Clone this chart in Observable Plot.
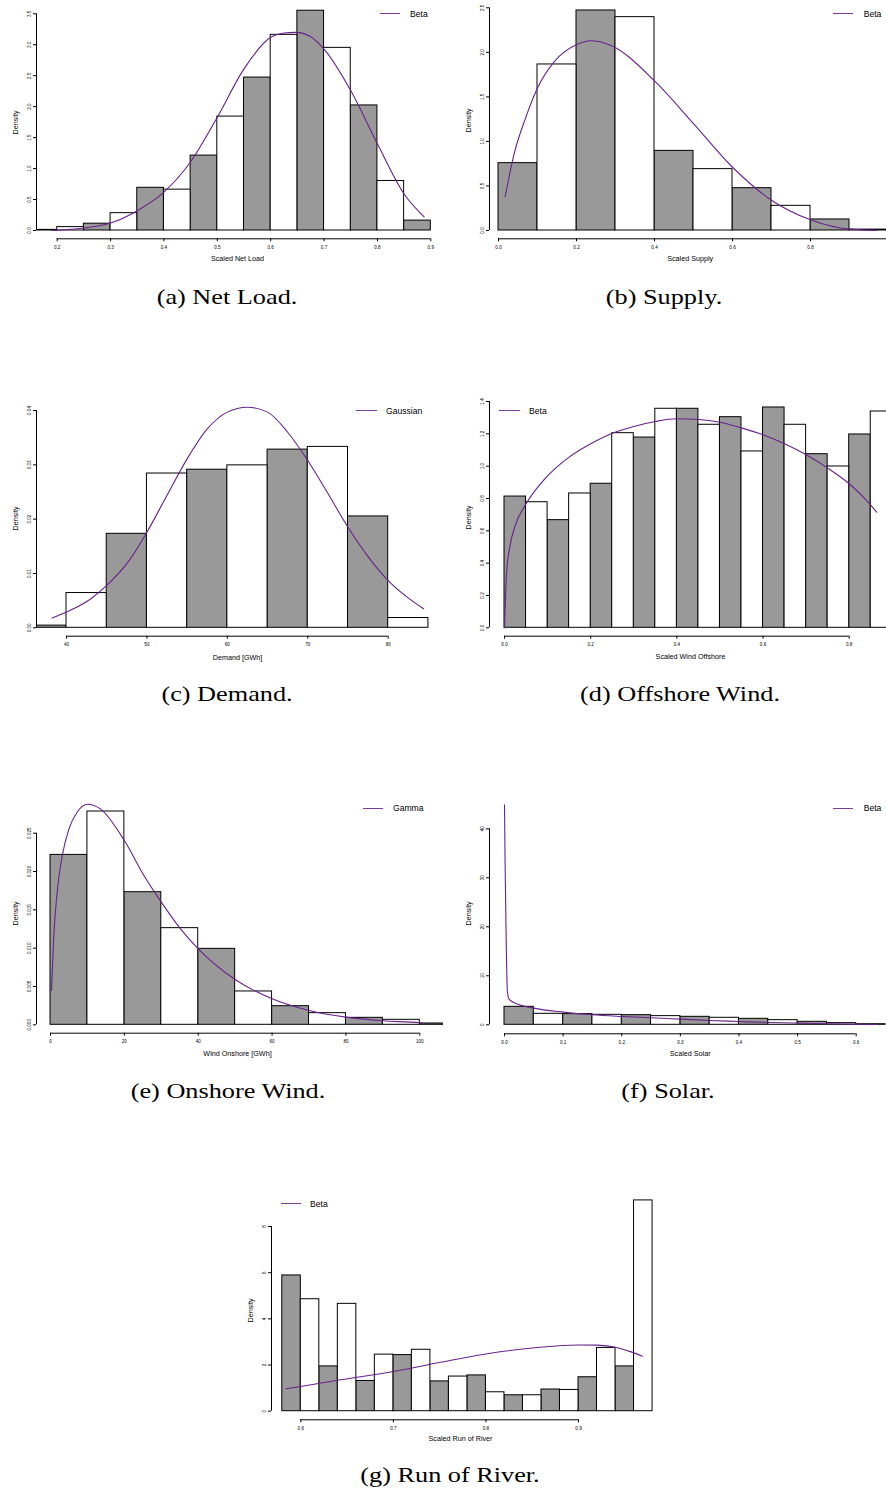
<!DOCTYPE html>
<html><head><meta charset="utf-8">
<script src="https://cdn.jsdelivr.net/npm/d3@7"></script>
<script src="https://cdn.jsdelivr.net/npm/@observablehq/plot@0.6"></script>
<style>
body{margin:0;background:#fff}
#page{position:relative;width:886px;height:1492px;overflow:hidden;background:#fff}
.cap{position:absolute;font-family:"Liberation Serif","Times New Roman",serif;font-size:21px;white-space:nowrap;transform:translate(-50%,-50%) scaleX(1.25);color:#000}
.legtxt{position:absolute;font-family:"Liberation Sans",Arial,sans-serif;font-size:8.6px;white-space:nowrap;transform:translateY(-50%);color:#000}
.legln{position:absolute;height:0;border-top:1.4px solid #7b3f98}
</style>
</head><body><div id="page"></div>
<script>
// ---------- DATA ----------
// (a) Net Load
const netLoadBreaks = [0.15,0.2,0.25,0.3,0.35,0.4,0.45,0.5,0.55,0.6,0.65,0.7,0.75,0.8,0.85,0.9];
const netLoadDensity = [0.01,0.055,0.11,0.28,0.69,0.66,1.21,1.84,2.47,3.16,3.55,2.95,2.02,0.80,0.16];
const netLoadFitX = [0.19,0.25,0.30,0.35,0.40,0.45,0.50,0.55,0.60,0.625,0.647,0.675,0.70,0.75,0.80,0.85,0.8875];
const netLoadFitY = [0.0,0.04,0.12,0.32,0.62,1.11,1.83,2.61,3.12,3.19,3.20,3.13,2.93,2.26,1.40,0.59,0.22];
const netLoadXTicks = [0.2,0.3,0.4,0.5,0.6,0.7,0.8,0.9];
const netLoadXLabels = ["0.2","0.3","0.4","0.5","0.6","0.7","0.8","0.9"];
const netLoadYTicks = [0,0.5,1,1.5,2,2.5,3,3.5];
const netLoadYLabels = ["0.0","0.5","1.0","1.5","2.0","2.5","3.0","3.5"];

// (b) Supply
const supplyBreaks = [0,0.1,0.2,0.3,0.4,0.5,0.6,0.7,0.8,0.9,1.0];
const supplyDensity = [0.756,1.864,2.47,2.395,0.894,0.689,0.475,0.277,0.124,0.01];
const supplyFitX = [0.017,0.040,0.070,0.100,0.142,0.202,0.236,0.287,0.40,0.50,0.60,0.70,0.80,0.90,0.97];
const supplyFitY = [0.38,0.86,1.27,1.60,1.89,2.09,2.13,2.08,1.68,1.20,0.71,0.34,0.12,0.015,0.002];
const supplyXTicks = [0,0.2,0.4,0.6,0.8];
const supplyXLabels = ["0.0","0.2","0.4","0.6","0.8"];
const supplyYTicks = [0,0.5,1,1.5,2,2.5];
const supplyYLabels = ["0.0","0.5","1.0","1.5","2.0","2.5"];

// (c) Demand
const demandBreaks = [35,40,45,50,55,60,65,70,75,80,85];
const demandDensity = [0.0004,0.0064,0.0173,0.0284,0.0291,0.0299,0.0328,0.0333,0.0205,0.0018];
const demandFitX = [38.2,40,43,45,47.5,50,52.5,55,57.5,60,62.5,65,67.5,70,72.4,75,77.4,80,82.4,84.4];
const demandFitY = [0.0018,0.0029,0.0053,0.0078,0.0118,0.0176,0.0244,0.0311,0.0366,0.0397,0.0406,0.0397,0.0360,0.0308,0.0250,0.0185,0.0133,0.0087,0.0056,0.0035];
const demandXTicks = [40,50,60,70,80];
const demandXLabels = ["40","50","60","70","80"];
const demandYTicks = [0,0.01,0.02,0.03,0.04];
const demandYLabels = ["0.00","0.01","0.02","0.03","0.04"];

// (d) Offshore Wind
const offshoreBreaks = [0,0.05,0.1,0.15,0.2,0.25,0.3,0.35,0.4,0.45,0.5,0.55,0.6,0.65,0.7,0.75,0.8,0.85,0.9];
const offshoreDensity = [0.812,0.777,0.666,0.831,0.891,1.204,1.177,1.355,1.355,1.256,1.303,1.091,1.363,1.256,1.074,0.998,1.196,1.338];
const offshoreFitX = [0,0.005,0.013,0.025,0.05,0.09,0.15,0.2,0.25,0.3,0.35,0.4,0.45,0.5,0.55,0.6,0.65,0.7,0.75,0.8,0.833,0.864];
const offshoreFitY = [0,0.344,0.51,0.633,0.767,0.911,1.056,1.138,1.204,1.245,1.276,1.293,1.289,1.272,1.237,1.194,1.138,1.07,0.988,0.891,0.808,0.715];
const offshoreXTicks = [0,0.2,0.4,0.6,0.8];
const offshoreXLabels = ["0.0","0.2","0.4","0.6","0.8"];
const offshoreYTicks = [0,0.2,0.4,0.6,0.8,1.0,1.2,1.4];
const offshoreYLabels = ["0.0","0.2","0.4","0.6","0.8","1.0","1.2","1.4"];

// (e) Onshore Wind
const onshoreBreaks = [0,10,20,30,40,50,60,70,80,90,100,110];
const onshoreDensity = [0.02217,0.02783,0.0173,0.01261,0.00991,0.00435,0.00243,0.00152,0.00091,0.00065,0.00017];
const onshoreFitX = [0.27,0.9,1.8,3.2,5.0,7.2,10.1,13.5,20,25.3,30,35.2,40,50,60,70,80,90,100,101];
const onshoreFitY = [0.00448,0.01165,0.0173,0.0221,0.02557,0.02774,0.02878,0.02817,0.02404,0.01948,0.016,0.01252,0.00991,0.00591,0.00339,0.00187,0.001,0.00052,0.00026,0.00017];
const onshoreXTicks = [0,20,40,60,80,100];
const onshoreXLabels = ["0","20","40","60","80","100"];
const onshoreYTicks = [0,0.005,0.01,0.015,0.02,0.025];
const onshoreYLabels = ["0.000","0.005","0.010","0.015","0.020","0.025"];

// (f) Solar
const solarBreaks = [0,0.05,0.1,0.15,0.2,0.25,0.3,0.35,0.4,0.45,0.5,0.55,0.6,0.65];
const solarDensity = [3.67,2.24,2.18,2.04,1.97,1.77,1.63,1.43,1.22,0.95,0.61,0.34,0.12];
const solarFitX = [0,0.001,0.003,0.005,0.008,0.021,0.05,0.1,0.15,0.2,0.25,0.3,0.35,0.4,0.45,0.5,0.55,0.6,0.635];
const solarFitY = [44.9,33.2,16.2,6.7,5.17,4.29,3.4,2.59,2.04,1.7,1.43,1.16,0.88,0.68,0.48,0.34,0.2,0.14,0.07];
const solarXTicks = [0,0.1,0.2,0.3,0.4,0.5,0.6];
const solarXLabels = ["0.0","0.1","0.2","0.3","0.4","0.5","0.6"];
const solarYTicks = [0,10,20,30,40];
const solarYLabels = ["0","10","20","30","40"];

// (g) Run of River
const riverBreaks = [0.58,0.60,0.62,0.64,0.66,0.68,0.70,0.72,0.74,0.76,0.78,0.80,0.82,0.84,0.86,0.88,0.90,0.92,0.94,0.96,0.98];
const riverDensity = [5.88,4.85,1.94,4.65,1.31,2.45,2.43,2.66,1.29,1.50,1.55,0.82,0.69,0.69,0.94,0.92,1.47,2.74,1.94,9.13];
const riverFitX = [0.584,0.6,0.643,0.7,0.751,0.8,0.85,0.9,0.92,0.94,0.956,0.969];
const riverFitY = [0.97,1.07,1.36,1.72,2.12,2.48,2.74,2.87,2.86,2.77,2.58,2.38];
const riverXTicks = [0.6,0.7,0.8,0.9];
const riverXLabels = ["0.6","0.7","0.8","0.9"];
const riverYTicks = [0,2,4,6,8];
const riverYLabels = ["0","2","4","6","8"];

// ---------- LAYOUT ----------
const PURPLE = "#68228B", GREY = "#999999";
const page = document.getElementById("page");

const panels = [
  {id:"a", left:0, top:0, width:443, height:270, axisX:36, axisY:238.3,
   xCal:[0.2,56.7,0.9,430.3], yCal:[0,230,3.5,13.3],
   breaks:netLoadBreaks, density:netLoadDensity, fitX:netLoadFitX, fitY:netLoadFitY,
   xTicks:netLoadXTicks, xLabels:netLoadXLabels, yTicks:netLoadYTicks, yLabels:netLoadYLabels,
   xTitle:"Scaled Net Load", xTitlePos:[237,258], yTitlePos:[15,122],
   legend:{name:"Beta", x1:380, x2:400, y:14, tx:410},
   caption:{text:"(a) Net Load.", x:227, y:297}},
  {id:"b", left:443, top:0, width:443, height:270, axisX:489, axisY:238.3,
   xCal:[0,498,0.8,810], yCal:[0,230,2.5,7.3], xLineEnd:1.0,
   breaks:supplyBreaks, density:supplyDensity, fitX:supplyFitX, fitY:supplyFitY,
   xTicks:supplyXTicks, xLabels:supplyXLabels, yTicks:supplyYTicks, yLabels:supplyYLabels,
   xTitle:"Scaled Supply", xTitlePos:[689.7,258], yTitlePos:[468,120],
   legend:{name:"Beta", x1:833, x2:853, y:14, tx:863.7},
   caption:{text:"(b) Supply.", x:664, y:297}},
  {id:"c", left:0, top:395, width:443, height:270, axisX:36, axisY:635.7,
   xCal:[40,66,80,387.7], yCal:[0,627.3,0.04,410],
   breaks:demandBreaks, density:demandDensity, fitX:demandFitX, fitY:demandFitY,
   xTicks:demandXTicks, xLabels:demandXLabels, yTicks:demandYTicks, yLabels:demandYLabels,
   xTitle:"Demand [GWh]", xTitlePos:[237,656.7], yTitlePos:[15,518],
   legend:{name:"Gaussian", x1:356, x2:377, y:411, tx:386},
   caption:{text:"(c) Demand.", x:227, y:694}},
  {id:"d", left:443, top:395, width:443, height:270, axisX:489, axisY:635.7,
   xCal:[0,504,0.8,848.7], yCal:[0,627.3,1.4,401],
   breaks:offshoreBreaks, density:offshoreDensity, fitX:offshoreFitX, fitY:offshoreFitY,
   xTicks:offshoreXTicks, xLabels:offshoreXLabels, yTicks:offshoreYTicks, yLabels:offshoreYLabels,
   xTitle:"Scaled Wind Offshore", xTitlePos:[690,656.5], yTitlePos:[468,517],
   legend:{name:"Beta", x1:499, x2:520, y:411, tx:529},
   caption:{text:"(d) Offshore Wind.", x:680, y:694}},
  {id:"e", left:0, top:795, width:443, height:270, axisX:36, axisY:1032.7,
   xCal:[0,50,100,419.3], yCal:[0,1024.3,0.025,832.7],
   breaks:onshoreBreaks, density:onshoreDensity, fitX:onshoreFitX, fitY:onshoreFitY,
   xTicks:onshoreXTicks, xLabels:onshoreXLabels, yTicks:onshoreYTicks, yLabels:onshoreYLabels,
   xTitle:"Wind Onshore [GWh]", xTitlePos:[237,1053], yTitlePos:[15,913],
   legend:{name:"Gamma", x1:363, x2:383, y:808.3, tx:393},
   caption:{text:"(e) Onshore Wind.", x:228, y:1091}},
  {id:"f", left:443, top:795, width:443, height:270, axisX:489, axisY:1033.3,
   xCal:[0,504,0.6,855.7], yCal:[0,1024.3,40,828.3],
   breaks:solarBreaks, density:solarDensity, fitX:solarFitX, fitY:solarFitY,
   xTicks:solarXTicks, xLabels:solarXLabels, yTicks:solarYTicks, yLabels:solarYLabels,
   xTitle:"Scaled Solar", xTitlePos:[689.7,1053], yTitlePos:[468,913],
   legend:{name:"Beta", x1:833, x2:853, y:808.3, tx:863.7},
   caption:{text:"(f) Solar.", x:668, y:1091}},
  {id:"g", left:240, top:1190, width:430, height:262, axisX:271, axisY:1419.3,
   xCal:[0.6,300.3,0.9,578], yCal:[0,1410.7,8,1226],
   breaks:riverBreaks, density:riverDensity, fitX:riverFitX, fitY:riverFitY,
   xTicks:riverXTicks, xLabels:riverXLabels, yTicks:riverYTicks, yLabels:riverYLabels,
   xTitle:"Scaled Run of River", xTitlePos:[460,1438], yTitlePos:[250,1310],
   legend:{name:"Beta", x1:280.7, x2:300.7, y:1204, tx:310},
   caption:{text:"(g) Run of River.", x:450, y:1475}}
];

function makePanel(p) {
  const ml = p.axisX - p.left;
  const mb = p.top + p.height - p.axisY;
  const xr = [p.xCal[1] - p.left, p.xCal[3] - p.left];
  const yr = [p.yCal[1] - p.top, p.yCal[3] - p.top];
  const xk = (p.xCal[2] - p.xCal[0]) / (xr[1] - xr[0]);
  const xLeft = p.xCal[0] + (ml - xr[0]) * xk;
  const bins = p.breaks.slice(0, -1).map((b, i) => ({x1: b, x2: p.breaks[i + 1], d: p.density[i], i}));
  const pts = p.fitX.map((x, i) => ({x, y: p.fitY[i]}));
  const xFmt = d => p.xLabels[p.xTicks.indexOf(d)];
  const yFmt = d => p.yLabels[p.yTicks.indexOf(d)];
  const xLineEnd = p.xLineEnd ?? p.xTicks[p.xTicks.length - 1];
  const svg = Plot.plot({
    width: p.width, height: p.height,
    marginLeft: ml, marginBottom: mb, marginTop: 0, marginRight: 0,
    x: {domain: [p.xCal[0], p.xCal[2]], range: xr},
    y: {domain: [p.yCal[0], p.yCal[2]], range: yr},
    style: {background: "transparent", fontFamily: "'Liberation Sans', Arial, sans-serif", overflow: "hidden"},
    marks: [
      Plot.rectY(bins, {filter: d => d.i % 2 === 0, x1: "x1", x2: "x2", y1: 0, y2: "d", fill: GREY, stroke: "#000", strokeWidth: 1, clip: true}),
      Plot.rectY(bins, {filter: d => d.i % 2 === 1, x1: "x1", x2: "x2", y1: 0, y2: "d", fill: "#fff", stroke: "#000", strokeWidth: 1, clip: true}),
      Plot.lineY(pts, {x: "x", y: "y", stroke: PURPLE, strokeWidth: 1.1, curve: "monotone-x", clip: true}),
      Plot.ruleX([xLeft], {y1: p.yTicks[0], y2: p.yTicks[p.yTicks.length - 1], stroke: "#000", strokeWidth: 1}),
      Plot.axisY({ticks: p.yTicks, tickFormat: yFmt, tickRotate: -90, tickSize: 3, tickPadding: 2.5, fontSize: 4.6, label: null, stroke: "#000"}),
      Plot.ruleY([p.yCal[0]], {x1: p.xTicks[0], x2: xLineEnd, dy: p.axisY - p.yCal[1], stroke: "#000", strokeWidth: 1}),
      Plot.axisX({ticks: p.xTicks, tickFormat: xFmt, tickSize: 3, tickPadding: 4, fontSize: 4.6, label: null, stroke: "#000"}),
      Plot.text(["Density"], {text: d => d, frameAnchor: "top-left", textAnchor: "middle", lineAnchor: "middle", dx: p.yTitlePos[0] - p.left - ml, dy: p.yTitlePos[1] - p.top, rotate: -90, fontSize: 7.2, fill: "#000"}),
      Plot.text([p.xTitle], {text: d => d, frameAnchor: "top-left", textAnchor: "middle", lineAnchor: "middle", dx: p.xTitlePos[0] - p.left - ml, dy: p.xTitlePos[1] - p.top, fontSize: 7.2, fill: "#000"})
    ]
  });
  svg.style.position = "absolute";
  svg.style.left = p.left + "px";
  svg.style.top = p.top + "px";
  svg.style.maxWidth = "none";
  page.appendChild(svg);

  // legend (inside plot area, overlay)
  const ln = document.createElement("div");
  ln.className = "legln";
  ln.style.left = p.legend.x1 + "px";
  ln.style.top = (p.legend.y - 0.7) + "px";
  ln.style.width = (p.legend.x2 - p.legend.x1) + "px";
  page.appendChild(ln);
  const lt = document.createElement("div");
  lt.className = "legtxt";
  lt.style.left = p.legend.tx + "px";
  lt.style.top = p.legend.y + "px";
  lt.textContent = p.legend.name;
  page.appendChild(lt);

  // caption
  const cap = document.createElement("div");
  cap.className = "cap";
  cap.style.left = p.caption.x + "px";
  cap.style.top = p.caption.y + "px";
  cap.textContent = p.caption.text;
  page.appendChild(cap);
}

panels.forEach(makePanel);
</script>
</body></html>
